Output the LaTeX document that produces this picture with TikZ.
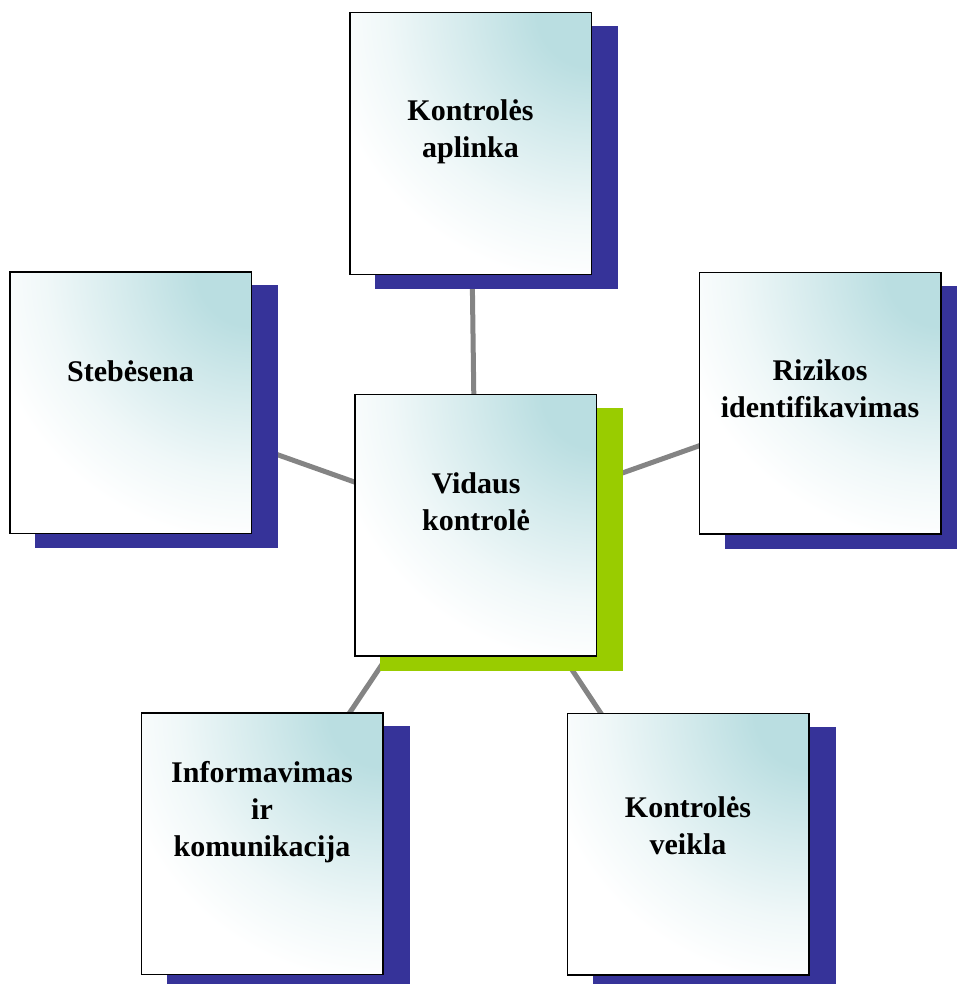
\documentclass[tikz,border=0pt]{standalone}
\usepackage{fontspec}
\setmainfont{Liberation Serif}
\usetikzlibrary{backgrounds}
\definecolor{cardteal}{RGB}{186,222,225}
\definecolor{shadowblue}{RGB}{54,51,153}
\definecolor{shadowgreen}{RGB}{153,204,0}
\definecolor{linkgray}{RGB}{132,132,132}
\pgfdeclareradialshading{cornerglow}{\pgfpoint{0bp}{0bp}}{%
  color(0bp)=(cardteal); color(5bp)=(cardteal); color(12bp)=(cardteal!60!white);
  color(19bp)=(cardteal!22!white); color(25bp)=(white); color(50bp)=(white)}
\tikzset{
  card/.style={draw=black, line width=1.5pt, fill=white, inner sep=0pt,
    minimum width=241.5pt, minimum height=261.5pt,
    path picture={\shade[shading=cornerglow]
      (path picture bounding box.north east) circle (270pt);}},
  cardtext/.style={anchor=north, align=center, inner sep=0pt,
    font=\fontsize{30}{37}\selectfont\bfseries},
  link/.style={draw=linkgray, line width=5pt}
}
\begin{document}
\begin{tikzpicture}[x=1pt,y=-1pt]
\useasboundingbox (0,0) rectangle (956,984);

\node[card] (vidaus) at (475.5,525) {};
\node[card] (aplinka) at (470.5,143.5) {};
\node[card] (stebesena) at (130.5,402.5) {};
\node[card] (rizikos) at (820,403) {};
\node[card] (informavimas) at (262,843.5) {};
\node[card] (veikla) at (688,844) {};

\node[cardtext] (vidausText) at (476,467) {\strut Vidaus\\kontrolė};
\node[cardtext] (aplinkaText) at (470.5,94) {\strut Kontrolės\\aplinka};
\node[cardtext] (stebesenaText) at (130.5,355) {\strut Stebėsena};
\node[cardtext] (rizikosText) at (820,354) {\strut Rizikos\\identifikavimas};
\node[cardtext] (informavimasText) at (262,756) {\strut Informavimas\\ir\\komunikacija};
\node[cardtext] (veiklaText) at (688,791) {\strut Kontrolės\\veikla};

\begin{scope}[on background layer]
\foreach \n in {aplinka,stebesena,rizikos,informavimas,veikla}
  \draw[link] (vidaus.center) -- (\n.center);
\foreach \n in {aplinka,stebesena,rizikos,informavimas,veikla}
  \fill[shadowblue] ([shift={(26,14)}]\n.north west) rectangle ([shift={(26,14)}]\n.south east);
\fill[shadowgreen] ([shift={(26,14)}]vidaus.north west) rectangle ([shift={(26,14)}]vidaus.south east);
\end{scope}
\end{tikzpicture}
\end{document}
